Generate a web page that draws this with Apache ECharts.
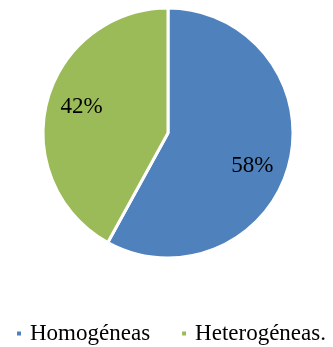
<!DOCTYPE html>
<html>
<head>
<meta charset="utf-8">
<script src="https://cdn.jsdelivr.net/npm/echarts@6/dist/echarts.min.js"></script>
<style>
  html, body { margin: 0; padding: 0; background: #fff; }
  #chart { width: 333px; height: 347px; }
</style>
</head>
<body>
<div id="chart"></div>
<script>
// Share of groups by type
const categories = ['Homogéneas', 'Heterogéneas.'];
const shares = [58, 42];
const colors = ['#4f81bd', '#9bbb59'];
// per-slice nudge of the percentage labels
const labelOffsets = [[21, 17], [-23, -10]];

const chart = echarts.init(document.getElementById('chart'), null, { renderer: 'canvas' });

const serif = '"Liberation Serif", "Times New Roman", serif';

chart.setOption({
  animation: false,
  legend: {
    data: categories,
    orient: 'horizontal',
    left: 10,
    top: 317,
    icon: 'rect',
    itemWidth: 6,
    itemHeight: 6,
    itemGap: 30,
    textStyle: {
      fontFamily: serif,
      fontSize: 23,
      color: '#000',
      padding: [0, 0, 0, 3]
    }
  },
  series: [{
    type: 'pie',
    center: [168, 133],
    radius: [0, 125],
    startAngle: 90,
    clockwise: true,
    silent: true,
    itemStyle: { borderColor: '#fff', borderWidth: 3 },
    label: {
      show: true,
      position: 'inside',
      formatter: '{c}%',
      fontFamily: serif,
      fontSize: 23,
      color: '#000'
    },
    labelLine: { show: false },
    data: categories.map((name, i) => ({
      name: name,
      value: shares[i],
      itemStyle: { color: colors[i] },
      label: { offset: labelOffsets[i] }
    }))
  }]
});
</script>
</body>
</html>
